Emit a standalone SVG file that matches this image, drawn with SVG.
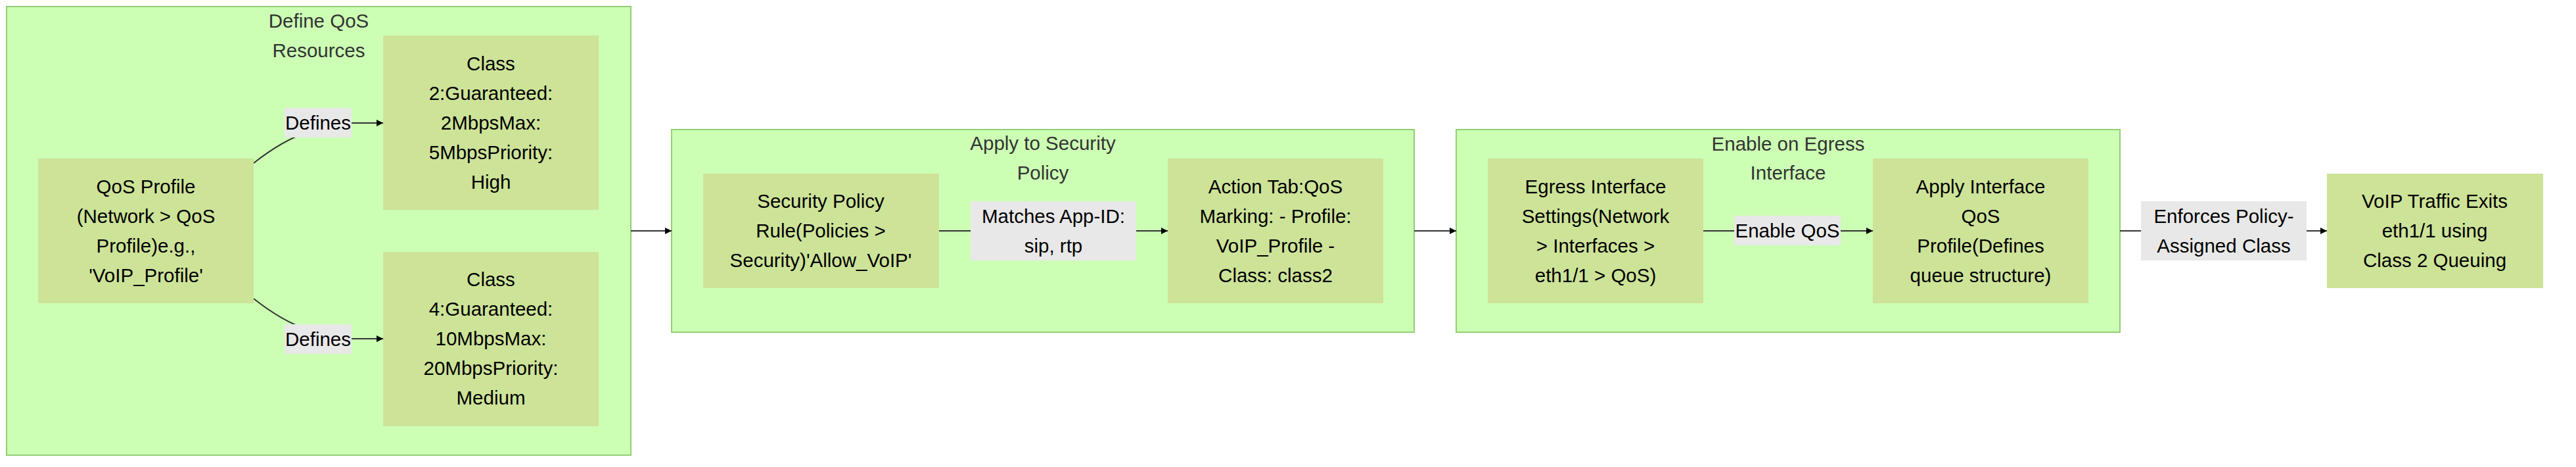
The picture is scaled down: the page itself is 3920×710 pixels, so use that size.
<svg xmlns="http://www.w3.org/2000/svg" width="3920" height="710" viewBox="0 0 3920 710">
<defs>
<style>
.cluster{fill:#ccffb4;stroke:#92cf74;stroke-width:2}
.node{fill:#cde398;stroke:none}
.lbl{fill:#e8e8e8;stroke:none}
.t{font-family:"Liberation Sans",Arial,sans-serif;font-size:29.5px;fill:#000;text-anchor:middle}
.ct{font-family:"Liberation Sans",Arial,sans-serif;font-size:29.5px;fill:#333;text-anchor:middle}
.edge{fill:none;stroke:#333;stroke-width:2}
</style>
<marker id="arr" viewBox="0 0 10 10" refX="10" refY="5" markerWidth="10" markerHeight="10" markerUnits="userSpaceOnUse" orient="auto">
<path d="M0,0 L10,5 L0,10 z" fill="#000"/>
</marker>
</defs>
<rect width="3920" height="710" fill="#fff"/>

<g id="cluster-define">
<rect class="cluster" x="10" y="10" width="950" height="682"/>
<text class="ct" x="485" y="42">Define QoS</text>
<text class="ct" x="485" y="87">Resources</text>
</g>
<g id="cluster-apply">
<rect class="cluster" x="1022" y="197" width="1130" height="308"/>
<text class="ct" x="1587" y="228">Apply to Security</text>
<text class="ct" x="1587" y="273">Policy</text>
</g>
<g id="cluster-enable">
<rect class="cluster" x="2216" y="197" width="1010" height="308"/>
<text class="ct" x="2721" y="229">Enable on Egress</text>
<text class="ct" x="2721" y="273">Interface</text>
</g>

<g id="connectors">
<path class="edge" d="M386,248 C415,225 440,210 470,200 C490,192 505,187 530,187 L583,187" marker-end="url(#arr)"/>
<path class="edge" d="M386,454 C415,477 440,492 470,502 C490,510 505,515 530,515 L583,515" marker-end="url(#arr)"/>
<path class="edge" d="M960,351 L1022,351" marker-end="url(#arr)"/>
<path class="edge" d="M1429,351 L1777,351" marker-end="url(#arr)"/>
<path class="edge" d="M2152,351 L2216,351" marker-end="url(#arr)"/>
<path class="edge" d="M2592,351 L2850,351" marker-end="url(#arr)"/>
<path class="edge" d="M3226,351 L3541,351" marker-end="url(#arr)"/>
</g>

<g id="label-defines-1">
<rect class="lbl" x="433" y="164" width="102" height="45"/>
<text class="t" x="484" y="197">Defines</text>
</g>
<g id="label-defines-2">
<rect class="lbl" x="433" y="493" width="102" height="45"/>
<text class="t" x="484" y="526">Defines</text>
</g>
<g id="label-matches">
<rect class="lbl" x="1477" y="306" width="252" height="90"/>
<text class="t" x="1603" y="339">Matches App-ID:</text>
<text class="t" x="1603" y="384">sip, rtp</text>
</g>
<g id="label-enable">
<rect class="lbl" x="2639" y="328" width="162" height="45"/>
<text class="t" x="2720" y="361">Enable QoS</text>
</g>
<g id="label-enforces">
<rect class="lbl" x="3258" y="306" width="252" height="90"/>
<text class="t" x="3384" y="339">Enforces Policy-</text>
<text class="t" x="3384" y="384">Assigned Class</text>
</g>

<g id="node-qos-profile">
<rect class="node" x="58" y="241" width="328" height="220"/>
<text class="t" x="222" y="294">QoS Profile</text>
<text class="t" x="222" y="339">(Network &gt; QoS</text>
<text class="t" x="222" y="384">Profile)e.g.,</text>
<text class="t" x="222" y="429">'VoIP_Profile'</text>
</g>
<g id="node-class2">
<rect class="node" x="583" y="54" width="328" height="265"/>
<text class="t" x="747" y="107">Class</text>
<text class="t" x="747" y="152">2:Guaranteed:</text>
<text class="t" x="747" y="197">2MbpsMax:</text>
<text class="t" x="747" y="242">5MbpsPriority:</text>
<text class="t" x="747" y="287">High</text>
</g>
<g id="node-class4">
<rect class="node" x="583" y="383" width="328" height="265"/>
<text class="t" x="747" y="435">Class</text>
<text class="t" x="747" y="480">4:Guaranteed:</text>
<text class="t" x="747" y="525">10MbpsMax:</text>
<text class="t" x="747" y="570">20MbpsPriority:</text>
<text class="t" x="747" y="615">Medium</text>
</g>
<g id="node-security-policy">
<rect class="node" x="1070" y="264" width="359" height="174"/>
<text class="t" x="1249" y="316">Security Policy</text>
<text class="t" x="1249" y="361">Rule(Policies &gt;</text>
<text class="t" x="1249" y="406">Security)'Allow_VoIP'</text>
</g>
<g id="node-action-tab">
<rect class="node" x="1777" y="241" width="328" height="220"/>
<text class="t" x="1941" y="294">Action Tab:QoS</text>
<text class="t" x="1941" y="339">Marking: - Profile:</text>
<text class="t" x="1941" y="384">VoIP_Profile -</text>
<text class="t" x="1941" y="429">Class: class2</text>
</g>
<g id="node-egress">
<rect class="node" x="2264" y="241" width="328" height="220"/>
<text class="t" x="2428" y="294">Egress Interface</text>
<text class="t" x="2428" y="339">Settings(Network</text>
<text class="t" x="2428" y="384">&gt; Interfaces &gt;</text>
<text class="t" x="2428" y="429">eth1/1 &gt; QoS)</text>
</g>
<g id="node-apply-interface">
<rect class="node" x="2850" y="241" width="328" height="220"/>
<text class="t" x="3014" y="294">Apply Interface</text>
<text class="t" x="3014" y="339">QoS</text>
<text class="t" x="3014" y="384">Profile(Defines</text>
<text class="t" x="3014" y="429">queue structure)</text>
</g>
<g id="node-voip-exits">
<rect class="node" x="3541" y="264" width="329" height="174"/>
<text class="t" x="3705" y="316">VoIP Traffic Exits</text>
<text class="t" x="3705" y="361">eth1/1 using</text>
<text class="t" x="3705" y="406">Class 2 Queuing</text>
</g>
</svg>
